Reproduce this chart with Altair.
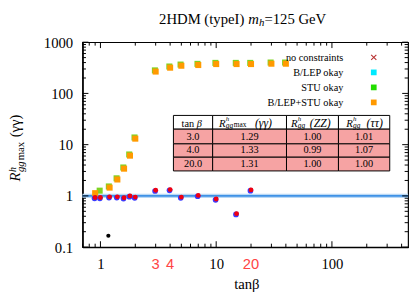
import altair as alt
import pandas as pd

# ---------------- data ----------------
tanb_orange = [0.9, 1.2, 1.4, 1.6, 1.8, 2.0, 3, 4, 5, 7, 10, 15, 20, 30, 40]
r_orange = [1.13, 1.45, 2.09, 3.4, 6.1, 13.1, 267, 318, 347, 358, 374, 374, 374, 380, 380]
tanb_green = [1.0, 1.2, 1.4, 1.6, 1.8, 2.0, 3, 4, 5, 7, 10, 15, 20, 30, 40]
r_green = [1.2, 1.45, 2.09, 3.4, 6.1, 13.1, 267, 318, 347, 358, 374, 374, 374, 380, 380]
tanb_dots = [0.9, 1.0, 1.2, 1.4, 1.6, 1.8, 2.0, 3, 4, 5, 7, 10, 15, 20]
r_dots = [0.93, 0.93, 0.96, 0.96, 0.92, 1.0, 0.95, 1.29, 1.33, 0.95, 1.02, 0.87, 0.45, 1.31]
tanb_black = [1.17]
r_black = [0.167]
sm_value = [1.0]

legend_labels = ["no constraints", "B/LEP okay", "STU okay", "B/LEP+STU okay"]
legend_colors = ["#b83232", "#00eaff", "#22dd00", "#ff9900"]

table_tanb = ["3.0", "4.0", "20.0"]
table_gamma = ["1.29", "1.33", "1.31"]
table_zz = ["1.00", "0.99", "1.00"]
table_tau = ["1.01", "1.07", "1.00"]

highlight_tanb = [3, 4, 20]
highlight_text = ["3", "4", "20"]

x_tick_labels = [1, 10, 100]
y_tick_labels = [0.1, 1, 10, 100, 1000]

# ---------------- layout / style ----------------
SERIF = "Liberation Serif"
SANS = "Liberation Sans"
W, H = 332, 209
xs = alt.Scale(type="log", domain=[0.7, 455])
ys = alt.Scale(type="log", domain=[0.1, 1000])

common_axis = dict(format="~g", ticks=False, tickSize=0, labelPadding=10,
                   labelFont=SERIF, labelFontSize=15, labelColor="black",
                   domainColor="black", domainWidth=1.5, grid=False, title=None,
                   labelFlush=False, labelOverlap=False)
x_axis = alt.Axis(values=x_tick_labels, **common_axis)
y_axis = alt.Axis(values=y_tick_labels, **common_axis)


def X(f):
    return alt.X(f"{f}:Q", scale=xs, axis=x_axis)


def Y(f):
    return alt.Y(f"{f}:Q", scale=ys, axis=y_axis)


def log_ticks(lo, hi):
    major, minor = [], []
    for e in range(-2, 4):
        for m in range(1, 10):
            v = round(m * 10 ** e, 6)
            if lo <= v <= hi:
                (major if m == 1 else minor).append(v)
    return major, minor


def text_layer(rows, **mark):
    df = pd.DataFrame(rows, columns=["px", "py", "s"])
    return alt.Chart(df).mark_text(**mark).encode(
        x=alt.X("px:Q", scale=None), y=alt.Y("py:Q", scale=None), text="s:N")


layers = []

# reference line at R = 1
ref_df = pd.DataFrame({"r": sm_value})
layers.append(alt.Chart(ref_df).mark_rule(color="#b9d8f5", strokeWidth=4.5).encode(y=Y("r")))
layers.append(alt.Chart(ref_df).mark_rule(color="#3f92e6", strokeWidth=1.8).encode(y=Y("r")))

# frame ticks (inward)
xmaj, xmin = log_ticks(0.7, 455)
ymaj, ymin = log_ticks(0.1, 1000)
for vals, ln in ((xmaj, 6), (xmin, 3.5)):
    d = pd.DataFrame({"v": vals})
    layers.append(alt.Chart(d).mark_rule(color="black", strokeWidth=1).encode(
        x=X("v"), y=alt.value(H), y2=alt.value(H - ln)))
    layers.append(alt.Chart(d).mark_rule(color="black", strokeWidth=1).encode(
        x=X("v"), y=alt.value(0), y2=alt.value(ln)))
for vals, ln in ((ymaj, 6), (ymin, 3.5)):
    d = pd.DataFrame({"v": vals})
    layers.append(alt.Chart(d).mark_rule(color="black", strokeWidth=1).encode(
        y=Y("v"), x=alt.value(0), x2=alt.value(ln)))
    layers.append(alt.Chart(d).mark_rule(color="black", strokeWidth=1).encode(
        y=Y("v"), x=alt.value(W), x2=alt.value(W - ln)))

# data points
layers.append(alt.Chart(pd.DataFrame({"t": tanb_green, "r": r_green})).mark_square(
    size=38, color="#7ed321", opacity=1, xOffset=-0.8, yOffset=-1.2).encode(x=X("t"), y=Y("r")))
layers.append(alt.Chart(pd.DataFrame({"t": tanb_orange, "r": r_orange})).mark_square(
    size=38, color="#ff9a00", opacity=1).encode(x=X("t"), y=Y("r")))
dots_df = pd.DataFrame({"t": tanb_dots, "r": r_dots})
layers.append(alt.Chart(dots_df).mark_circle(
    size=34, color="#3a3aff", opacity=1, xOffset=-0.6, yOffset=0.8).encode(x=X("t"), y=Y("r")))
layers.append(alt.Chart(dots_df).mark_circle(
    size=24, color="#f00010", opacity=1).encode(x=X("t"), y=Y("r")))
layers.append(alt.Chart(pd.DataFrame({"t": tanb_black, "r": r_black})).mark_circle(
    size=18, color="black", opacity=1).encode(x=X("t"), y=Y("r")))

# red highlighted tan(beta) values under the axis
layers.append(alt.Chart(pd.DataFrame({"t": highlight_tanb, "s": highlight_text})).mark_text(
    font=SANS, fontSize=15, color="#ff4444", baseline="alphabetic").encode(
    x=X("t"), y=alt.value(231), text="s:N"))

# legend
LEG_X_TEXT, LEG_X_SYM, LEG_Y0, LEG_STEP = 266, 297, 19, 15.3
leg_rows = [(LEG_X_TEXT, LEG_Y0 + i * LEG_STEP, lab) for i, lab in enumerate(legend_labels)]
layers.append(text_layer(leg_rows, font=SERIF, fontSize=10.5, align="right",
                         baseline="alphabetic", color="black"))
sym_df = pd.DataFrame({"px": [LEG_X_SYM] * 3,
                       "py": [LEG_Y0 + i * LEG_STEP - 3.5 for i in range(1, 4)],
                       "c": legend_colors[1:]})
layers.append(alt.Chart(sym_df).mark_square(size=34, opacity=1).encode(
    x=alt.X("px:Q", scale=None), y=alt.Y("py:Q", scale=None), color=alt.Color("c:N", scale=None)))
layers.append(alt.Chart(pd.DataFrame({"px": [LEG_X_SYM], "py": [LEG_Y0 - 3.5]})).mark_point(
    shape="M-1,-1L1,1M-1,1L1,-1", size=28, filled=False, opacity=1,
    color=legend_colors[0], strokeWidth=1.1).encode(
    x=alt.X("px:Q", scale=None), y=alt.Y("py:Q", scale=None)))

# table
COLS = [92.7, 132.7, 208, 261, 313.3]
ROWS = [74.7, 88.7, 103.7, 117.3, 131.3]
cells = []
for r in range(4):
    for c in range(4):
        cells.append({"x": COLS[c], "x2": COLS[c + 1], "y": ROWS[r], "y2": ROWS[r + 1],
                      "f": "white" if r == 0 else "#f6a3a3"})
layers.append(alt.Chart(pd.DataFrame(cells)).mark_rect(stroke="black", strokeWidth=1).encode(
    x=alt.X("x:Q", scale=None), x2="x2:Q", y=alt.Y("y:Q", scale=None), y2="y2:Q",
    fill=alt.Color("f:N", scale=None)))
centers = [(COLS[i] + COLS[i + 1]) / 2 for i in range(4)]
body = []
for r, vals in enumerate(zip(table_tanb, table_gamma, table_zz, table_tau)):
    for c, v in enumerate(vals):
        body.append((centers[c], ROWS[r + 2] - 4, v))
layers.append(text_layer(body, font=SERIF, fontSize=10.5, align="center",
                         baseline="alphabetic", color="black"))
# header: tan beta
layers.append(text_layer([(101, 86, "tan")], font=SERIF, fontSize=10.5, align="left",
                         baseline="alphabetic", color="black"))
layers.append(text_layer([(116.5, 86, "β")], font=SERIF, fontSize=10.5, fontStyle="italic",
                         align="left", baseline="alphabetic", color="black"))
# header: R^h_gg pieces
r_x = [139.3, 212.7, 269.0]
layers.append(text_layer([(x, 86, "R") for x in r_x], font=SERIF, fontSize=11,
                         fontStyle="italic", align="left", baseline="alphabetic", color="black"))
layers.append(text_layer([(x + 6.8, 80.2, "h") for x in r_x], font=SERIF, fontSize=7,
                         fontStyle="italic", align="left", baseline="alphabetic", color="black"))
layers.append(text_layer([(x + 6.8, 87.6, "gg") for x in r_x], font=SERIF, fontSize=7.5,
                         fontStyle="italic", align="left", baseline="alphabetic", color="black"))
layers.append(text_layer([(154.3, 86.8, "max")], font=SERIF, fontSize=7.5, align="left",
                         baseline="alphabetic", color="black"))
layers.append(text_layer([(184.5, 86, "(γγ)"), (242.5, 86, "(ZZ)"), (298.0, 86, "(ττ)")],
                         font=SERIF, fontSize=12, fontStyle="italic", align="center",
                         baseline="alphabetic", color="black"))

# title
layers.append(text_layer([(165, -19, "2HDM (typeI)")], font=SERIF, fontSize=15, align="right",
                         baseline="alphabetic", color="black"))
layers.append(text_layer([(169, -19, "m")], font=SERIF, fontSize=15, fontStyle="italic",
                         align="left", baseline="alphabetic", color="black"))
layers.append(text_layer([(180, -16, "h")], font=SERIF, fontSize=11, fontStyle="italic",
                         align="left", baseline="alphabetic", color="black"))
layers.append(text_layer([(185.5, -19, "=125 GeV")], font=SERIF, fontSize=15, align="left",
                         baseline="alphabetic", color="black"))

# x title
layers.append(text_layer([(167.6, 252, "tanβ")], font=SERIF, fontSize=15, align="center",
                         baseline="alphabetic", color="black"))

# y title (rotated pieces)
rot = dict(angle=270, align="left", baseline="alphabetic", color="black", font=SERIF)
layers.append(text_layer([(-63.5, 142, "R")], fontSize=15, fontStyle="italic", **rot))
layers.append(text_layer([(-68, 132.5, "h")], fontSize=10, fontStyle="italic", **rot))
layers.append(text_layer([(-60, 132.5, "gg")], fontSize=11, fontStyle="italic", **rot))
layers.append(text_layer([(-60, 120.5, "max")], fontSize=11, **rot))
layers.append(text_layer([(-63.5, 97, "(γγ)")], fontSize=15, **rot))

chart = alt.layer(*layers).properties(
    width=W, height=H,
    autosize=alt.AutoSizeParams(type="none"),
    padding={"left": 76, "top": 32, "right": 4, "bottom": 48},
).configure_view(stroke="black", strokeWidth=1.2)

chart.save("out.html", embed_options={"renderer": "svg", "actions": False})
